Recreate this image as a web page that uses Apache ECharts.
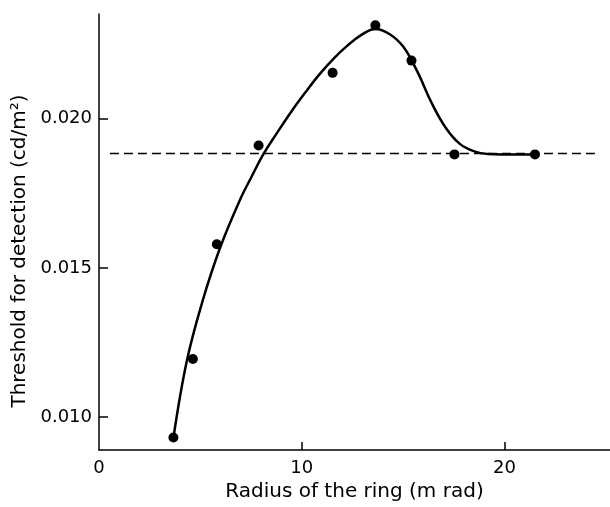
<!DOCTYPE html>
<html>
<head>
<meta charset="utf-8">
<script src="https://cdn.jsdelivr.net/npm/echarts@6/dist/echarts.min.js"></script>
<style>
  html, body { margin: 0; padding: 0; background: #fff; }
  #chart { width: 610px; height: 507px; }
</style>
</head>
<body>
<div id="chart"></div>
<script>
// measured points
const pointX = [3.67, 4.63, 5.81, 7.87, 11.52, 13.63, 15.41, 17.53, 21.5];
const pointY = [0.00932, 0.01195, 0.01579, 0.01910, 0.02153, 0.02312, 0.02194, 0.0188, 0.0188];

// fitted curve
const curveX = [3.67, 4.33, 5.09, 5.98, 6.96, 7.53, 8.10, 8.79, 9.48, 10.17, 10.86, 11.56, 12.25, 12.94, 13.63, 14.32, 15.01, 15.70, 16.40, 17.09, 17.78, 18.47, 19.16, 19.85, 21.48];
const curveY = [0.00931, 0.01188, 0.01385, 0.01569, 0.01729, 0.01806, 0.01880, 0.01953, 0.02023, 0.02087, 0.02147, 0.02200, 0.02244, 0.02280, 0.02300, 0.02283, 0.02240, 0.02157, 0.02053, 0.01970, 0.01916, 0.01891, 0.01881, 0.0188, 0.0188];

// dashed reference level
const refX = [0.54, 24.5];
const refLevel = 0.01883;

const xTicks = [0, 10, 20];
const yTicks = [0.010, 0.015, 0.020];

const chart = echarts.init(document.getElementById('chart'));

const labelFont = { color: '#000', fontFamily: 'DejaVu Sans', fontSize: 18 };

const option = {
    backgroundColor: '#fff',
    animation: false,
    grid: { left: 99, right: 0, top: 14, bottom: 56 },
    xAxis: {
        type: 'value',
        min: 0,
        max: 25.2,
        name: 'Radius of the ring (m rad)',
        nameLocation: 'middle',
        nameGap: 28,
        nameTextStyle: { color: '#000', fontFamily: 'DejaVu Sans', fontSize: 20 },
        axisLine: { lineStyle: { color: '#000', width: 1.5 } },
        axisTick: { inside: true, length: 8, customValues: [10, 20], lineStyle: { color: '#000', width: 1.5 } },
        axisLabel: { ...labelFont, margin: 9, customValues: xTicks },
        splitLine: { show: false }
    },
    yAxis: {
        type: 'value',
        min: 0.0089,
        max: 0.0235,
        axisLine: { show: true, lineStyle: { color: '#000', width: 1.5 } },
        axisTick: { show: true, inside: true, length: 9, customValues: yTicks, lineStyle: { color: '#000', width: 1.5 } },
        axisLabel: {
            ...labelFont,
            margin: 7,
            customValues: yTicks,
            formatter: v => v.toFixed(3)
        },
        splitLine: { show: false }
    },
    graphic: [{
        type: 'text',
        x: 20,
        y: 251,
        rotation: Math.PI / 2,
        style: {
            text: 'Threshold for detection (cd/m²)',
            fill: '#000',
            font: '20px "DejaVu Sans"',
            textAlign: 'center',
            textVerticalAlign: 'middle'
        }
    }],
    series: [
        {
            type: 'line',
            data: refX.map(x => [x, refLevel]),
            symbol: 'none',
            silent: true,
            lineStyle: { color: '#000', width: 1.5, type: [9, 5] }
        },
        {
            type: 'line',
            data: curveX.map((x, i) => [x, curveY[i]]),
            smooth: 0.4,
            symbol: 'none',
            lineStyle: { color: '#000', width: 2.5 }
        },
        {
            type: 'scatter',
            data: pointX.map((x, i) => [x, pointY[i]]),
            symbolSize: 10,
            itemStyle: { color: '#000', opacity: 1 }
        }
    ]
};

chart.setOption(option);
</script>
</body>
</html>
